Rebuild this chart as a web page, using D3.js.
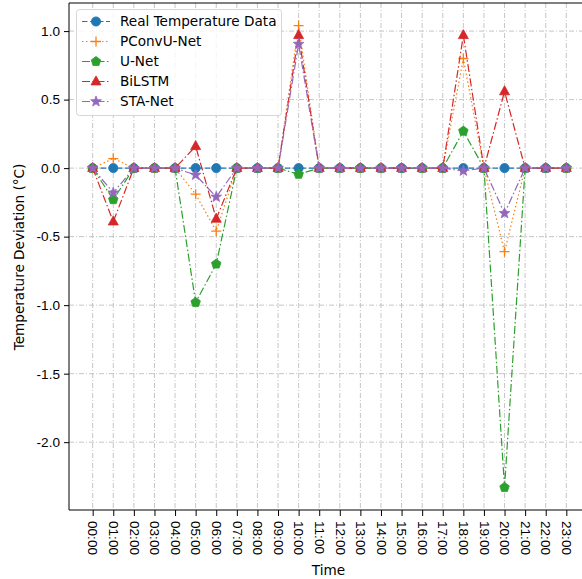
<!DOCTYPE html>
<html><head><meta charset="utf-8">
<script src="https://cdn.jsdelivr.net/npm/d3@7"></script>
<style>body{margin:0;background:#fff}svg{display:block;font-family:"DejaVu Sans",sans-serif}</style>
</head><body><svg id="c" width="582" height="579"></svg>
<script>
const hours = ["00:00","01:00","02:00","03:00","04:00","05:00","06:00","07:00","08:00","09:00","10:00","11:00","12:00","13:00","14:00","15:00","16:00","17:00","18:00","19:00","20:00","21:00","22:00","23:00"];
const realData = [0,0,0,0,0,0,0,0,0,0,0,0,0,0,0,0,0,0,0,0,0,0,0,0];
const pconvData = [0,0.07,0,0,0,-0.19,-0.46,0,0,0,1.04,0,0,0,0,0,0,0,0.80,0,-0.61,0,0,0];
const unetData = [0,-0.23,0,0,0,-0.98,-0.70,0,0,0,-0.045,0,0,0,0,0,0,0,0.27,0,-2.33,0,0,0];
const bilstmData = [0,-0.39,0,0,0,0.16,-0.37,0,0,0,0.97,0,0,0,0,0,0,0,0.97,0,0.56,0,0,0];
const staData = [0,-0.18,0,0,0,-0.05,-0.21,0,0,0,0.905,0,0,0,0,0,0,0,-0.02,0,-0.33,0,0,0];
const seriesNames = ["Real Temperature Data","PConvU-Net","U-Net","BiLSTM","STA-Net"];
const yTicks = [1.0,0.5,0.0,-0.5,-1.0,-1.5,-2.0];

const series = [
  {name:seriesNames[0], values:realData, color:"#1f77b4", dash:"5.5,2.5", marker:"circle"},
  {name:seriesNames[1], values:pconvData, color:"#ff7f0e", dash:"1.5,2.5", marker:"plus"},
  {name:seriesNames[2], values:unetData, color:"#2ca02c", dash:"8,2.5,1.5,2.5", marker:"pentagon"},
  {name:seriesNames[3], values:bilstmData, color:"#d62728", dash:"8,2.5,1.5,2.5", marker:"triangle"},
  {name:seriesNames[4], values:staData, color:"#9467bd", dash:"8,2.5,1.5,2.5", marker:"star"}
];

const svg = d3.select("#c");
const L=69, R=590, T=3, B=510;
const x = d3.scaleLinear().domain([-1.15, 24.15]).range([L, R]);
const y = d3.scaleLinear().domain([-2.495, 1.205]).range([B, T]);
const FS = 13.6;

// grid
const g = svg.append("g");
g.selectAll(".gx").data(hours).enter().append("line")
  .attr("x1",(d,i)=>x(i)).attr("x2",(d,i)=>x(i)).attr("y1",T).attr("y2",B)
  .attr("stroke","#b8b8b8").attr("stroke-width",0.8).attr("stroke-dasharray","5,2,1,2");
g.selectAll(".gy").data(yTicks).enter().append("line")
  .attr("x1",L).attr("x2",R).attr("y1",d=>y(d)).attr("y2",d=>y(d))
  .attr("stroke","#b8b8b8").attr("stroke-width",0.8).attr("stroke-dasharray","5,2,1,2");

function markerPath(type){
  switch(type){
    case "circle": return d3.symbol(d3.symbolCircle, Math.PI*4.6*4.6)();
    case "triangle": return "M0,-5.6L5,3.4L-5,3.4Z";
    case "pentagon": {
      const r=5; let p=[];
      for(let k=0;k<5;k++){const a=-Math.PI/2+k*2*Math.PI/5;p.push([r*Math.cos(a),r*Math.sin(a)]);}
      return "M"+p.map(q=>q.join(",")).join("L")+"Z";
    }
    case "star": {
      const ro=5.6, ri=2.3; let p=[];
      for(let k=0;k<10;k++){const a=-Math.PI/2+k*Math.PI/5;const r=k%2?ri:ro;p.push([r*Math.cos(a),r*Math.sin(a)]);}
      return "M"+p.map(q=>q.join(",")).join("L")+"Z";
    }
    case "plus": return "M-5,0L5,0M0,-5L0,5";
  }
}

const plot = svg.append("g");
const line = d3.line().x((d,i)=>x(i)).y(d=>y(d));
series.forEach(s=>{
  plot.append("path").attr("d",line(s.values)).attr("fill","none")
    .attr("stroke",s.color).attr("stroke-width",1.2).attr("stroke-dasharray",s.dash);
  plot.selectAll(null).data(s.values).enter().append("path")
    .attr("transform",(d,i)=>`translate(${x(i)},${y(d)})`)
    .attr("d",markerPath(s.marker))
    .attr("fill", s.marker==="plus"?"none":s.color)
    .attr("stroke",s.color).attr("stroke-width",s.marker==="plus"?1.3:0.8);
});

// axes
const xAxis = d3.axisBottom(x).tickValues(d3.range(hours.length)).tickFormat(i=>hours[i]).tickSize(6).tickPadding(4);
const xa = svg.append("g").attr("transform",`translate(0,${B})`).call(xAxis);
xa.select(".domain").attr("d",`M${L},0H${R}`).attr("stroke","#000").attr("stroke-width",1);
xa.selectAll(".tick line").attr("stroke","#000");
xa.selectAll(".tick text").attr("font-size",FS).attr("fill","#000")
  .attr("transform","rotate(90)").attr("text-anchor","start").attr("x",11).attr("y",0).attr("dy","0.35em");

const yAxis = d3.axisLeft(y).tickValues(yTicks).tickFormat(d=>d.toFixed(1)).tickSize(5).tickPadding(4);
const ya = svg.append("g").attr("transform",`translate(${L},0)`).call(yAxis);
ya.select(".domain").attr("d",`M0,${T}V${B}`).attr("stroke","#000").attr("stroke-width",1);
ya.selectAll(".tick line").attr("stroke","#000");
ya.selectAll(".tick text").attr("font-size",FS).attr("fill","#000");
svg.append("line").attr("x1",L).attr("x2",R).attr("y1",T).attr("y2",T).attr("stroke","#000");

svg.append("text").attr("x",(L+R)/2-1).attr("y",575).attr("text-anchor","middle").attr("font-size",FS).text("Time");
svg.append("text").attr("transform","translate(24,257) rotate(-90)").attr("text-anchor","middle").attr("font-size",FS).text("Temperature Deviation (°C)");

// legend
const lg = svg.append("g");
lg.append("rect").attr("x",76.5).attr("y",9.5).attr("width",205).attr("height",106).attr("rx",3)
  .attr("fill","#fff").attr("fill-opacity",0.8).attr("stroke","#d6d6d6");
series.forEach((s,k)=>{
  const yy = 21.5 + k*20;
  lg.append("line").attr("x1",82).attr("x2",110).attr("y1",yy).attr("y2",yy)
    .attr("stroke",s.color).attr("stroke-width",1.2).attr("stroke-dasharray",s.dash);
  lg.append("path").attr("transform",`translate(96,${yy})`).attr("d",markerPath(s.marker))
    .attr("fill", s.marker==="plus"?"none":s.color).attr("stroke",s.color).attr("stroke-width",s.marker==="plus"?1.3:0.8);
  lg.append("text").attr("x",120).attr("y",yy).attr("dy","0.35em").attr("font-size",FS).text(s.name);
});
</script></body></html>
